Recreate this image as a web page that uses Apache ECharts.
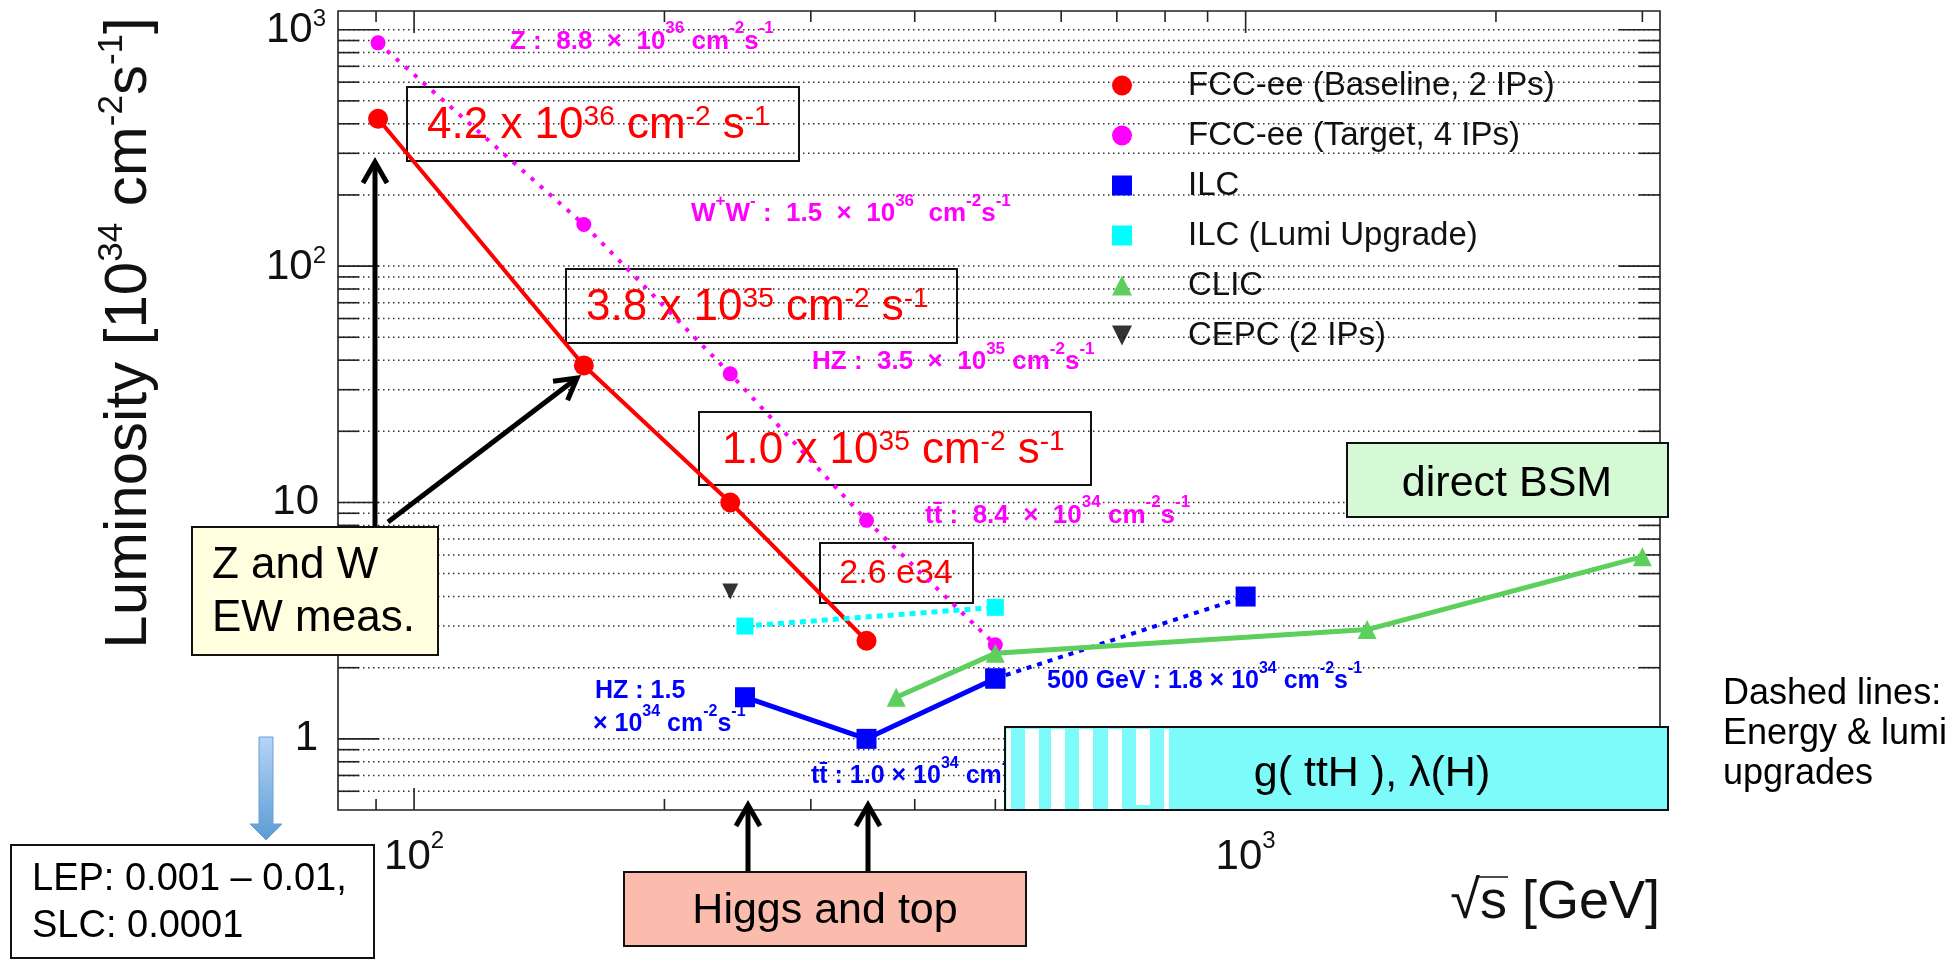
<!DOCTYPE html>
<html><head><meta charset="utf-8">
<script src="https://cdn.jsdelivr.net/npm/echarts@6/dist/echarts.min.js"></script>
<style>html,body{margin:0;padding:0;background:#fff}#c{width:1950px;height:959px}</style>
</head><body><div id="c"></div>
<script>
// ---------------- data (sqrt(s) in GeV, luminosity in 1e34 cm^-2 s^-1) ----------------
const fccBaseline      = [[90.5, 420], [160, 38], [240, 10], [350, 2.6]];
const fccTarget        = [[90.5, 880], [160, 150], [240, 35], [350, 8.4], [500, 2.5]];
const ilc              = [[250, 1.5], [350, 1.0], [500, 1.8]];
const ilcEnergyUpgrade = [[500, 1.8], [1000, 4.0]];
const ilcLumiUpgrade   = [[250, 3.0], [500, 3.6]];
const clic             = [[380, 1.5], [500, 2.3], [1400, 2.9], [3000, 5.9]];
const cepc             = [[240, 4.2]];
const seriesNames = ['FCC-ee (Baseline, 2 IPs)', 'FCC-ee (Target, 4 IPs)', 'ILC', 'ILC (Lumi Upgrade)', 'CLIC', 'CEPC (2 IPs)'];
const xRange = [81, 3150];
const yRange = [0.5, 1200];
const xTickVals = [90, 100, 200, 300, 400, 500, 600, 700, 800, 900, 1000, 2000, 3000];
const yTickVals = [0.6, 0.7, 0.8, 0.9, 1, 2, 3, 4, 5, 6, 7, 8, 9, 10, 20, 30, 40, 50, 60, 70, 80, 90,
                   100, 200, 300, 400, 500, 600, 700, 800, 900, 1000];
const axisLabelPow = {1: ['1'], 10: ['10'], 100: ['10', '2'], 1000: ['10', '3']};

// ---------------- helpers ----------------
const FONT = "'Liberation Sans', Arial, Helvetica, sans-serif";
const RED = '#ff0000', MAG = '#ff00ff', BLU = '#0000ff', CYA = '#00ffff', GRN = '#5ccf5c';
function isMajor(v) { const l = Math.log10(v); return Math.abs(l - Math.round(l)) < 1e-9; }

function richText(parts, f, fs, off, color, weight) {
  const L = parts.length > 1 ? Math.max(f, off + f / 2 + fs / 2) : f;
  const p = Math.max(0, L - fs);
  let text = '';
  parts.forEach((t, i) => { text += (i % 2 ? '{s|' : '{n|') + t + '}'; });
  return { text, L, rich: {
    n: { fontSize: f, fontFamily: FONT, fontWeight: weight, fill: color, verticalAlign: 'bottom' },
    s: { fontSize: fs, fontFamily: FONT, fontWeight: weight, fill: color, verticalAlign: 'top', padding: [0, 0, p, 0] }
  } };
}
function label(x, bc, parts, f, fs, off, color, weight, z, align) {
  const r = richText(parts, f, fs, off, color, weight);
  return { type: 'text', x: x, y: bc - (r.L - f / 2), z: z, silent: true,
    style: { text: r.text, rich: r.rich, align: align || 'left', verticalAlign: 'top',
             fontFamily: FONT, fontSize: f, fontWeight: weight, fill: color } };
}
function plain(x, y, text, f, color, align, z, weight) {
  return { type: 'text', x: x, y: y, z: z || 6, silent: true,
    style: { text: text, fontFamily: FONT, fontSize: f, fontWeight: weight || 'normal', fill: color || '#000',
             align: align || 'left', verticalAlign: 'middle' } };
}
function box(x0, y0, x1, y1, fill, z, lw) {
  return { type: 'rect', z: z || 3, silent: true, shape: { x: x0, y: y0, width: x1 - x0, height: y1 - y0 },
    style: { fill: fill || 'none', stroke: '#111', lineWidth: lw || 2 } };
}
function arrow(x0, y0, x1, y1, z) {
  const dx = x1 - x0, dy = y1 - y0, len = Math.hypot(dx, dy);
  const ux = dx / len, uy = dy / len, px = -uy, py = ux;
  const bx = x1 - ux * 21, by = y1 - uy * 21;
  return [
    { type: 'line', z: z || 8, silent: true, shape: { x1: x0, y1: y0, x2: x1 - ux * 2, y2: y1 - uy * 2 },
      style: { stroke: '#000', lineWidth: 5 } },
    { type: 'polyline', z: z || 8, silent: true,
      shape: { points: [[bx + px * 12, by + py * 12], [x1, y1], [bx - px * 12, by - py * 12]] },
      style: { stroke: '#000', lineWidth: 5, fill: 'none', lineJoin: 'miter' } }
  ];
}

// ---------------- ticks + dotted grid (drawn through axis scales) ----------------
function renderYTick(params, api) {
  const cs = params.coordSys;
  const v = api.value(1);
  const y = api.coord([api.value(0), v])[1];
  const len = isMajor(v) ? 41 : 21;
  const x0 = cs.x, x1 = cs.x + cs.width;
  return { type: 'group', children: [
    { type: 'line', shape: { x1: x0, y1: y, x2: x1, y2: y }, style: { stroke: '#333', lineWidth: 1.5, lineDash: [1.5, 3.5] } },
    { type: 'line', shape: { x1: x0, y1: y, x2: x0 + len, y2: y }, style: { stroke: '#222', lineWidth: 1.6 } },
    { type: 'line', shape: { x1: x1 - len, y1: y, x2: x1, y2: y }, style: { stroke: '#222', lineWidth: 1.6 } }
  ] };
}
function renderXTick(params, api) {
  const cs = params.coordSys;
  const v = api.value(0);
  const x = api.coord([v, api.value(1)])[0];
  const len = isMajor(v) ? 22 : 11;
  const y0 = cs.y, y1 = cs.y + cs.height;
  return { type: 'group', children: [
    { type: 'line', shape: { x1: x, y1: y1, x2: x, y2: y1 - len }, style: { stroke: '#222', lineWidth: 1.6 } },
    { type: 'line', shape: { x1: x, y1: y0, x2: x, y2: y0 + len }, style: { stroke: '#222', lineWidth: 1.6 } }
  ] };
}

function makeFormatter(isY) {
  return function (v) {
    const key = Math.round(v);
    if (Math.abs(v - key) > 1e-6 * Math.max(1, v)) return '';
    const p = axisLabelPow[key];
    if (!p) return '';
    if (p.length === 2) return '{b|' + p[0] + '}{s|' + p[1] + '}';
    if (!isY) return '{b|' + p[0] + '}';
    return (p[0] === '1' ? '{b1|' : '{b10|') + p[0] + '}';
  };
}

// ---------------- chart ----------------
const chart = echarts.init(document.getElementById('c'), null, { renderer: 'canvas' });

const lineBase = { type: 'line', z: 4, silent: true, animation: false, emphasis: { disabled: true } };

const graphics = [];
// Y axis title (rotated)
(function () {
  const r = richText(['Luminosity [10', '34', ' cm', '-2', 's', '-1', ']'], 60, 35, 17, '#111', 'normal');
  graphics.push({ type: 'text', x: 127, y: 333, rotation: Math.PI / 2, z: 6, silent: true,
    style: { text: r.text, rich: r.rich, align: 'center', verticalAlign: 'middle', fontFamily: FONT, fontSize: 60, fill: '#111' } });
})();
// X axis title
graphics.push(plain(1660, 903, '\u221As [GeV]', 54, '#111', 'right', 6));
graphics.push({ type: 'line', z: 6, silent: true, shape: { x1: 1476, y1: 877, x2: 1508, y2: 877 }, style: { stroke: '#111', lineWidth: 1.5 } });

// ROOT style labels (magenta)
const M = (x, bc, parts) => label(x, bc, parts, 26, 17, 13, MAG, 'bold', 5);
graphics.push(M(510, 41.5, ['Z :  8.8  \u00D7  10', '36', ' cm', '-2', 's', '-1']));
graphics.push(M(691, 214, ['W', '+', 'W', '-', ' :  1.5  \u00D7  10', '36', '  cm', '-2', 's', '-1']));
graphics.push(M(812, 362, ['HZ :  3.5  \u00D7  10', '35', ' cm', '-2', 's', '-1']));
graphics.push(M(925, 515.7, ['tt\u0304 :  8.4  \u00D7  10', '34', ' cm', '-2', 's', '-1']));
// blue labels
const B = (x, bc, parts) => label(x, bc, parts, 25, 16, 12, BLU, 'bold', 5);
graphics.push(B(595, 691, ['HZ : 1.5']));
graphics.push(B(593, 724, ['\u00D7 10', '34', ' cm', '-2', 's', '-1']));
graphics.push(B(811, 776, ['tt\u0304 : 1.0 \u00D7 10', '34', ' cm', '-2', 's', '-1']));
graphics.push(B(1047, 681, ['500 GeV : 1.8 \u00D7 10', '34', ' cm', '-2', 's', '-1']));

// red boxed luminosity values
const R = (x, bc, parts) => label(x, bc, parts, 44, 28, 9, RED, 'normal', 3);
graphics.push(box(407, 87, 799, 161));
graphics.push(R(427, 126, ['4.2 x 10', '36', ' cm', '-2', ' s', '-1']));
graphics.push(box(566, 269, 957, 343));
graphics.push(R(586, 308, ['3.8 x 10', '35', ' cm', '-2', ' s', '-1']));
graphics.push(box(699, 412, 1091, 485));
graphics.push(R(722, 451, ['1.0 x 10', '35', ' cm', '-2', ' s', '-1']));
graphics.push(box(820, 543, 973, 603));
graphics.push(plain(896, 574, '2.6 e34', 34, RED, 'center', 3));

// Z and W box + arrows
graphics.push(box(192, 527, 438, 655, '#FFFFDF', 7));
graphics.push(plain(212, 566, 'Z and W', 44, '#000', 'left', 7));
graphics.push(plain(212, 619, 'EW meas.', 44, '#000', 'left', 7));
graphics.push(...arrow(375, 527, 375, 162));
graphics.push(...arrow(388, 522, 577, 378));

// Higgs and top
graphics.push(box(624, 872, 1026, 946, '#FCBCAD', 7));
graphics.push(plain(825, 911, 'Higgs and top', 43, '#000', 'center', 7));
graphics.push(...arrow(748, 871, 748, 805));
graphics.push(...arrow(868, 871, 868, 805));

// LEP box and blue arrow
graphics.push(box(11, 845, 374, 958, '#ffffff', 7));
graphics.push(plain(32, 880, 'LEP: 0.001 \u2013 0.01,', 38, '#000', 'left', 7));
graphics.push(plain(32, 927, 'SLC: 0.0001', 38, '#000', 'left', 7));
graphics.push({ type: 'polygon', z: 7, silent: true,
  shape: { points: [[259, 737], [273, 737], [273, 824], [282, 824], [266, 840], [250, 824], [259, 824]] },
  style: { fill: new echarts.graphic.LinearGradient(0, 0, 0, 1, [{ offset: 0, color: '#b5d5f7' }, { offset: 1, color: '#5b9bd5' }]),
           stroke: '#6d9fd2', lineWidth: 1 } });

// direct BSM
graphics.push(box(1347, 443, 1668, 517, '#D5F8D5', 7));
graphics.push(plain(1507, 484, 'direct BSM', 43, '#000', 'center', 7));

// g(ttH), lambda(H) cyan box with stripes
graphics.push(box(1005, 727, 1668, 810, '#7DFBFB', 7));
[[1006.5, 1011, 809], [1025, 1039, 809], [1051, 1065, 809], [1079, 1093, 809], [1108, 1122, 809], [1136, 1150, 805], [1164, 1169, 809]]
  .forEach(s => graphics.push({ type: 'rect', z: 8, silent: true, shape: { x: s[0], y: 729, width: s[1] - s[0], height: s[2] - 729 }, style: { fill: '#ffffff' } }));
graphics.push(plain(1372, 774, 'g( ttH ), \u03BB(H)', 43, '#000', 'center', 9));

// Dashed lines note
graphics.push(plain(1723, 694, 'Dashed lines:', 36, '#000', 'left', 6));
graphics.push(plain(1723, 734, 'Energy & lumi', 36, '#000', 'left', 6));
graphics.push(plain(1723, 774, 'upgrades', 36, '#000', 'left', 6));

const axisRich = (pad) => ({
  b: { fontSize: 42, fontFamily: FONT, color: '#111', verticalAlign: 'bottom' },
  b1: { fontSize: 42, fontFamily: FONT, color: '#111', padding: [0, 8, 0, 0] },
  b10: { fontSize: 42, fontFamily: FONT, color: '#111', padding: [0, 7, 0, 0] },
  s: { fontSize: 24, fontFamily: FONT, color: '#111', verticalAlign: 'top', padding: [0, 0, pad, 0] }
});

chart.setOption({
  animation: false,
  backgroundColor: '#ffffff',
  tooltip: { show: false },
  grid: { left: 338, top: 11, width: 1322, height: 799, show: true, borderColor: '#222', borderWidth: 1.6,
          backgroundColor: 'transparent', containLabel: false, outerBoundsMode: 'none' },
  xAxis: { type: 'log', logBase: 10, min: xRange[0], max: xRange[1],
    axisLine: { show: false }, axisTick: { show: false }, splitLine: { show: false }, minorTick: { show: false },
    axisLabel: { margin: 19, formatter: makeFormatter(false), rich: axisRich(25), showMinLabel: false, showMaxLabel: false,
                 fontSize: 42, fontFamily: FONT, color: '#111' } },
  yAxis: { type: 'log', logBase: 10, min: yRange[0], max: yRange[1],
    axisLine: { show: false }, axisTick: { show: false }, splitLine: { show: false }, minorTick: { show: false },
    axisLabel: { margin: 12, formatter: makeFormatter(true), rich: axisRich(20), showMinLabel: false, showMaxLabel: false,
                 fontSize: 42, fontFamily: FONT, color: '#111' } },
  legend: {
    orient: 'vertical', left: 1112, top: 69, padding: 0, itemWidth: 20, itemHeight: 20, itemGap: 17,
    selectedMode: false, itemStyle: { borderWidth: 0 },
    textStyle: { fontSize: 33, fontFamily: FONT, color: '#111', lineHeight: 32, padding: [0, 0, 0, 51] },
    data: [
      { name: seriesNames[0], icon: 'circle' },
      { name: seriesNames[1], icon: 'circle' },
      { name: seriesNames[2], icon: 'rect' },
      { name: seriesNames[3], icon: 'rect' },
      { name: seriesNames[4], icon: 'triangle' },
      { name: seriesNames[5], icon: 'path://M0,0L10,0L5,10Z' }
    ]
  },
  graphic: { elements: graphics },
  series: [
    { type: 'custom', name: 'yticks', z: 1, silent: true, clip: false, renderItem: renderYTick,
      data: yTickVals.map(v => [xRange[0], v]) },
    { type: 'custom', name: 'xticks', z: 1, silent: true, clip: false, renderItem: renderXTick,
      data: xTickVals.map(v => [v, yRange[0]]) },
    Object.assign({}, lineBase, { name: seriesNames[1], data: fccTarget, symbol: 'circle', symbolSize: 15,
      itemStyle: { color: MAG, borderWidth: 0 }, lineStyle: { color: MAG, width: 4, type: [4, 8] } }),
    Object.assign({}, lineBase, { name: seriesNames[0], data: fccBaseline, symbol: 'circle', symbolSize: 20,
      itemStyle: { color: RED, borderWidth: 0 }, lineStyle: { color: RED, width: 4 } }),
    Object.assign({}, lineBase, { name: 'ILC energy upgrade', data: ilcEnergyUpgrade, symbol: 'rect', symbolSize: 20,
      itemStyle: { color: BLU, borderWidth: 0 }, lineStyle: { color: BLU, width: 4, type: [5, 6] } }),
    Object.assign({}, lineBase, { name: seriesNames[2], data: ilc, symbol: 'rect', symbolSize: 20,
      itemStyle: { color: BLU, borderWidth: 0 }, lineStyle: { color: BLU, width: 5 } }),
    Object.assign({}, lineBase, { name: seriesNames[3], data: ilcLumiUpgrade, symbol: 'rect', symbolSize: 17,
      itemStyle: { color: CYA, borderWidth: 0 }, lineStyle: { color: CYA, width: 5, type: [6, 5] } }),
    Object.assign({}, lineBase, { name: seriesNames[4], data: clic, symbol: 'triangle', symbolSize: 19,
      itemStyle: { color: GRN, borderWidth: 0 }, lineStyle: { color: GRN, width: 5 } }),
    { type: 'scatter', z: 4, silent: true, name: seriesNames[5], data: cepc, symbol: 'triangle', symbolRotate: 180,
      symbolSize: 16, itemStyle: { color: '#000' } }
  ]
});
</script>
</body></html>
